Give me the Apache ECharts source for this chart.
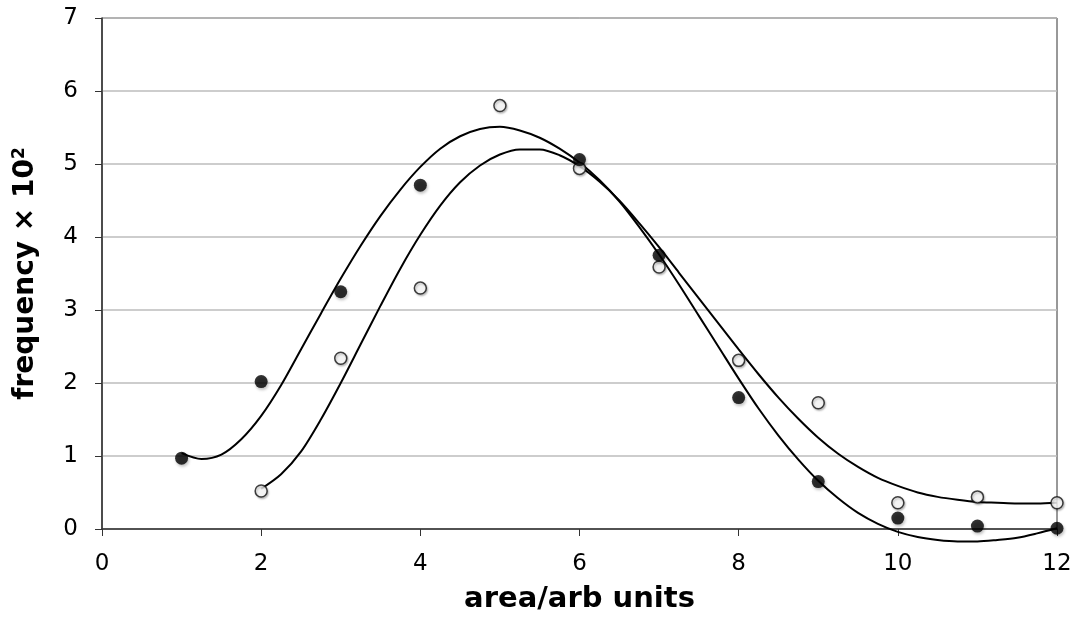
<!DOCTYPE html>
<html>
<head>
<meta charset="utf-8">
<script src="https://cdn.jsdelivr.net/npm/echarts@6/dist/echarts.min.js"></script>
<style>
    html, body { margin: 0; padding: 0; background: #fff; }
    #chart { width: 1080px; height: 628px; }
</style>
</head>
<body>
<div id="chart"></div>
<script>
// measured points
let areaX = [1, 2, 3, 4, 5, 6, 7, 8, 9, 10, 11, 12];
let filledY = [0.97, 2.02, 3.25, 4.71, null, 5.06, 3.75, 1.80, 0.65, 0.15, 0.04, 0.01];
let openY = [null, 0.52, 2.34, 3.30, 5.80, 4.94, 3.59, 2.31, 1.73, 0.36, 0.44, 0.36];

// trend curves, every 0.25 units
let fitFilledX = [1, 1.25, 1.5, 1.75, 2, 2.25, 2.5, 2.75, 3, 3.25, 3.5, 3.75, 4, 4.25, 4.5, 4.75, 5, 5.25, 5.5, 5.75,
    6, 6.25, 6.5, 6.75, 7, 7.25, 7.5, 7.75, 8, 8.25, 8.5, 8.75, 9, 9.25, 9.5, 9.75, 10, 10.25, 10.5, 10.75, 11, 11.25, 11.5, 11.75, 12];
let fitFilledY = [1.04, 0.96, 1.02, 1.23, 1.55, 1.97, 2.46, 2.95, 3.43, 3.88, 4.29, 4.65, 4.96, 5.21, 5.38, 5.48, 5.51, 5.46, 5.36, 5.21,
    5.02, 4.78, 4.49, 4.14, 3.76, 3.35, 2.92, 2.49, 2.06, 1.65, 1.28, 0.95, 0.66, 0.42, 0.22, 0.07, -0.04, -0.11, -0.15, -0.17, -0.17, -0.15, -0.12, -0.06, 0.01];
let fitOpenX = [2, 2.25, 2.5, 2.75, 3, 3.25, 3.5, 3.75, 4, 4.25, 4.5, 4.75, 5, 5.25, 5.5, 5.75,
    6, 6.25, 6.5, 6.75, 7, 7.25, 7.5, 7.75, 8, 8.25, 8.5, 8.75, 9, 9.25, 9.5, 9.75, 10, 10.25, 10.5, 10.75, 11, 11.25, 11.5, 11.75, 12];
let fitOpenY = [0.55, 0.75, 1.06, 1.50, 2.00, 2.53, 3.06, 3.57, 4.03, 4.43, 4.75, 4.98, 5.13, 5.20, 5.20, 5.12,
    4.97, 4.76, 4.50, 4.19, 3.86, 3.51, 3.16, 2.81, 2.46, 2.12, 1.80, 1.51, 1.25, 1.03, 0.85, 0.70, 0.59, 0.50, 0.44, 0.40, 0.37, 0.36, 0.35, 0.35, 0.36];

let xTicks = [0, 2, 4, 6, 8, 10, 12];
let yTicks = [0, 1, 2, 3, 4, 5, 6, 7];

function pairs(xs, ys) {
    let out = [];
    xs.forEach((x, i) => {
        if (ys[i] !== null) out.push([x, ys[i]]);
    });
    return out;
}

let axisColor = '#333';
let font = 'DejaVu Sans';

let chart = echarts.init(document.getElementById('chart'), null, { renderer: 'canvas' });

let option = {
    animation: false,
    grid: {
        left: 102,
        right: 23,
        top: 18,
        bottom: 99,
        show: true,
        borderColor: axisColor,
        borderWidth: 1
    },
    xAxis: {
        type: 'value',
        min: xTicks[0],
        max: xTicks[xTicks.length - 1],
        interval: 2,
        name: 'area/arb units',
        nameLocation: 'middle',
        nameGap: 56,
        nameTextStyle: {
            fontFamily: font,
            fontWeight: 'bold',
            fontSize: 29,
            color: '#000'
        },
        axisLine: { lineStyle: { color: axisColor, width: 1.5 } },
        axisTick: { show: true, inside: false, length: 7, lineStyle: { color: axisColor } },
        axisLabel: {
            margin: 24,
            fontFamily: font,
            fontSize: 23,
            color: '#000'
        },
        splitLine: { show: false }
    },
    yAxis: {
        type: 'value',
        min: yTicks[0],
        max: yTicks[yTicks.length - 1],
        interval: 1,
        name: '{b|frequency × 10}{s|2}',
        nameLocation: 'middle',
        nameGap: 62,
        nameRotate: 90,
        nameTextStyle: {
            rich: {
                b: { fontFamily: font, fontWeight: 'bold', fontSize: 28, color: '#000' },
                s: { fontFamily: font, fontWeight: 'bold', fontSize: 17, color: '#000', verticalAlign: 'top', padding: [0, 0, 12, 0] }
            }
        },
        axisLine: { lineStyle: { color: axisColor, width: 1.5 } },
        axisTick: { show: true, inside: false, length: 7, lineStyle: { color: axisColor } },
        axisLabel: {
            margin: 24,
            fontFamily: font,
            fontSize: 23,
            color: '#000'
        },
        splitLine: { show: true, lineStyle: { color: '#bcbcbc', width: 1.5 } }
    },
    series: [
        {
            name: 'fit filled',
            type: 'line',
            data: pairs(fitFilledX, fitFilledY),
            smooth: 0.3,
            clip: false,
            showSymbol: false,
            lineStyle: { color: '#000', width: 2 },
            z: 2
        },
        {
            name: 'fit open',
            type: 'line',
            data: pairs(fitOpenX, fitOpenY),
            smooth: 0.3,
            clip: false,
            showSymbol: false,
            lineStyle: { color: '#000', width: 2 },
            z: 2
        },
        {
            name: 'open',
            type: 'scatter',
            data: pairs(areaX, openY),
            symbol: 'circle',
            symbolSize: 12,
            itemStyle: {
                color: '#fff',
                borderColor: '#111',
                borderWidth: 1.5,
                shadowBlur: 2,
                shadowOffsetX: 1,
                shadowOffsetY: 1.5,
                shadowColor: 'rgba(0,0,0,0.3)'
            },
            z: 3
        },
        {
            name: 'filled',
            type: 'scatter',
            data: pairs(areaX, filledY),
            symbol: 'circle',
            symbolSize: 13,
            itemStyle: {
                color: '#000',
                shadowBlur: 3,
                shadowOffsetX: 1,
                shadowOffsetY: 2,
                shadowColor: 'rgba(0,0,0,0.3)'
            },
            z: 4
        }
    ]
};

chart.setOption(option);
</script>
</body>
</html>
